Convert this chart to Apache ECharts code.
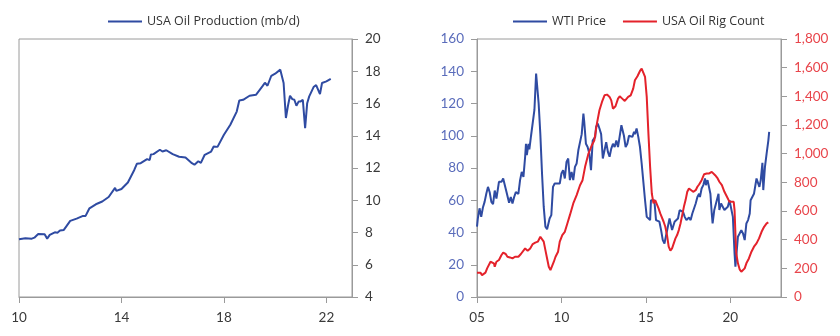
<!DOCTYPE html>
<html>
<head>
<meta charset="utf-8">
<script src="https://cdn.jsdelivr.net/npm/echarts@6/dist/echarts.min.js"></script>
<style>html,body{margin:0;padding:0;background:#fff}#c{width:840px;height:336px}</style>
</head>
<body>
<div id="c"></div>
<script>
// Left chart: USA oil production (mb/d), x in years since 2000
const prodX = [10.0,10.25,10.5,10.6,10.75,11.0,11.1,11.2,11.4,11.5,11.6,11.75,12.0,12.25,12.5,12.6,12.75,13.0,13.25,13.5,13.75,13.8,14.0,14.25,14.5,14.6,14.75,15.0,15.1,15.15,15.25,15.5,15.6,15.75,16.0,16.25,16.5,16.75,16.85,17.0,17.1,17.25,17.5,17.6,17.75,18.0,18.25,18.5,18.6,18.75,19.0,19.25,19.5,19.6,19.7,19.85,20.0,20.2,20.25,20.33,20.42,20.5,20.58,20.67,20.75,20.83,20.92,21.0,21.08,21.17,21.25,21.33,21.5,21.6,21.67,21.75,21.83,22.0,22.17];
const prodY = [7.58,7.64,7.62,7.68,7.91,7.89,7.62,7.85,8.01,7.99,8.12,8.16,8.72,8.86,9.03,9.03,9.5,9.75,9.92,10.2,10.77,10.58,10.7,11.1,11.88,12.26,12.3,12.55,12.49,12.84,12.86,13.13,13.02,13.1,12.86,12.7,12.65,12.3,12.2,12.42,12.32,12.82,13.02,13.33,13.31,14.06,14.68,15.5,16.19,16.23,16.48,16.54,17.06,17.29,17.1,17.72,17.85,18.1,18.06,17.27,15.1,15.86,16.48,16.27,16.23,15.86,16.13,16.13,16.23,14.47,16.02,16.44,17.02,17.14,17.02,16.58,17.27,17.37,17.52];

// Right chart: WTI price ($/bbl)
const wtiX = [5.0,5.05,5.15,5.25,5.35,5.45,5.55,5.65,5.75,5.85,5.95,6.05,6.15,6.3,6.45,6.55,6.65,6.75,6.9,7.0,7.1,7.2,7.3,7.45,7.55,7.65,7.75,7.85,7.9,7.95,8.05,8.1,8.2,8.3,8.4,8.5,8.55,8.65,8.75,8.85,8.95,9.05,9.15,9.3,9.4,9.5,9.6,9.75,9.9,10.0,10.1,10.2,10.3,10.4,10.5,10.6,10.7,10.8,10.9,11.0,11.1,11.2,11.3,11.35,11.45,11.55,11.65,11.75,11.85,11.95,12.0,12.05,12.15,12.25,12.35,12.45,12.55,12.65,12.75,12.85,12.95,13.05,13.15,13.25,13.35,13.45,13.55,13.6,13.7,13.8,13.9,14.0,14.1,14.2,14.3,14.35,14.45,14.55,14.65,14.75,14.85,14.95,15.05,15.15,15.25,15.3,15.4,15.5,15.6,15.7,15.8,15.9,16.0,16.1,16.2,16.3,16.4,16.5,16.55,16.7,16.8,16.9,17.0,17.1,17.2,17.3,17.4,17.5,17.55,17.65,17.75,17.85,17.95,18.05,18.15,18.2,18.3,18.4,18.5,18.55,18.65,18.75,18.82,18.9,18.95,19.05,19.15,19.3,19.35,19.45,19.55,19.65,19.75,19.85,19.95,20.05,20.15,20.25,20.3,20.35,20.45,20.55,20.65,20.75,20.85,20.95,21.05,21.15,21.2,21.3,21.4,21.45,21.55,21.65,21.72,21.8,21.9,21.95,22.05,22.15,22.25,22.3];
const wtiY = [43.6,48.7,55,49.7,55.5,59,64,68.3,65,59,57.6,66,61,71.4,71.4,73.5,72.5,65,58.4,62,58,62,65,64,72.5,77.6,74.5,87,95,88,95,91.5,100,101,116,138.5,139.6,120,101,76.6,56,43.6,42,48.7,50.8,68.3,70.4,70.4,70.4,76.6,78.7,73.5,83.8,85.9,72.5,77.6,72.5,80.7,82.8,91,92,101,113.7,108.6,95,93,89,78.7,97,98,99.3,105.5,107.6,104.5,101,85.9,84.8,96,90,87,92,95,93,97,93,92,106.5,106.5,100,93,95,100,101,99.3,102.4,101,104.5,99.3,93,82.8,71.4,60,49.7,48.7,47.7,60,59,60,47.7,46.7,46.7,41.5,35.3,33.2,34.3,43.6,48.7,47.7,41.5,46.7,47.7,48.7,53.9,52.8,52.8,49.7,47.7,46.7,49.3,47.7,51.8,54.9,58,62,64,62,67.3,69.4,73.5,69.4,72.5,72.5,64,51.8,45.6,54,58,64,54,58,57,54,53.5,56,60,59,49.7,27,18.8,25,37.4,39.4,41.5,39.4,35.3,45.6,47.7,51.8,60,59,64,65,73.5,73.5,68.3,72.5,83.2,66.3,80.7,89,97,102.4];

// Right chart: USA oil rig count
const rigX = [5.0,5.1,5.2,5.3,5.4,5.5,5.6,5.7,5.8,5.9,6.0,6.05,6.15,6.3,6.45,6.55,6.7,6.8,6.95,7.1,7.25,7.45,7.6,7.7,7.85,8.0,8.15,8.3,8.45,8.6,8.75,8.85,8.95,9.05,9.15,9.25,9.35,9.45,9.55,9.65,9.8,9.9,10.05,10.2,10.35,10.5,10.7,10.9,11.1,11.25,11.4,11.6,11.8,11.95,12.1,12.25,12.4,12.55,12.7,12.85,12.95,13.05,13.2,13.35,13.45,13.6,13.75,13.85,13.95,14.1,14.25,14.35,14.5,14.65,14.75,14.85,14.95,15.05,15.15,15.25,15.35,15.45,15.55,15.65,15.75,15.85,15.95,16.05,16.15,16.25,16.35,16.45,16.55,16.65,16.75,16.85,16.95,17.05,17.15,17.25,17.35,17.45,17.55,17.65,17.8,17.95,18.05,18.15,18.3,18.45,18.6,18.75,18.9,19.0,19.1,19.25,19.35,19.5,19.65,19.8,19.95,20.05,20.2,20.25,20.3,20.35,20.45,20.55,20.65,20.75,20.85,20.95,21.1,21.25,21.4,21.55,21.7,21.85,22.0,22.15,22.25];
const rigY = [170,183,170,153,142,170,200,211,246,246,235,211,246,258,293,309,300,281,276,269,281,281,300,304,339,323,339,369,379,386,420,416,386,327,269,211,188,193,246,281,316,386,432,455,513,571,653,711,780,815,908,1001,1059,1094,1210,1303,1361,1407,1412,1396,1372,1314,1331,1384,1400,1384,1368,1377,1396,1407,1454,1512,1540,1577,1593,1582,1535,1396,1140,908,722,653,676,664,618,583,571,525,490,432,351,323,339,374,409,432,467,513,571,629,676,734,757,745,734,745,769,785,815,857,862,862,873,866,850,827,804,780,734,699,664,664,664,606,444,304,235,193,176,176,200,235,269,316,351,374,409,455,490,513,520];

const leftXTicks = [10, 14, 18, 22];
const rightXTicks = [5, 10, 15, 20];

const BLUE = '#2f4ba2';
const RED = '#e4222b';
const AXIS = '#9a9a9a';
const FONT = 'Lato';

const pair = (xs, ys) => xs.map((x, i) => [x, ys[i]]);

const chart = echarts.init(document.getElementById('c'));
const labelBase = {fontFamily: FONT, fontSize: 13.5, color: '#3a3a3a'};
const legendText = {fontFamily: 'Open Sans', fontSize: 12.5, color: '#333'};

chart.setOption({
  animation: false,
  textStyle: {fontFamily: FONT},
  legend: [
    {data: ['USA Oil Production (mb/d)'], left: 103, top: 10, icon: 'rect', itemWidth: 34, itemHeight: 2, itemGap: 10,
     textStyle: legendText},
    {data: ['WTI Price', 'USA Oil Rig Count'], left: 508, top: 10, icon: 'rect', itemWidth: 34, itemHeight: 2, itemGap: 17,
     textStyle: legendText}
  ],
  grid: [
    {left: 19, top: 39, width: 333, height: 258, show: true, borderColor: AXIS, borderWidth: 1, backgroundColor: 'transparent'},
    {left: 477, top: 39, width: 304, height: 258, show: true, borderColor: AXIS, borderWidth: 1, backgroundColor: 'transparent'}
  ],
  xAxis: [
    {type: 'value', gridIndex: 0, min: 10, max: 23, interval: 4,
     axisLine: {show: true, lineStyle: {color: AXIS}},
     axisTick: {show: true, length: 6, lineStyle: {color: AXIS}, customValues: leftXTicks},
     axisLabel: Object.assign({}, labelBase, {margin: 14, customValues: leftXTicks, formatter: v => String(v)}),
     splitLine: {show: false}},
    {type: 'value', gridIndex: 1, min: 5, max: 23, interval: 5,
     axisLine: {show: true, lineStyle: {color: AXIS}},
     axisTick: {show: true, length: 6, lineStyle: {color: AXIS}, customValues: rightXTicks},
     axisLabel: Object.assign({}, labelBase, {margin: 14, customValues: rightXTicks, formatter: v => String(v).padStart(2, '0')}),
     splitLine: {show: false}}
  ],
  yAxis: [
    {type: 'value', gridIndex: 0, position: 'right', min: 4, max: 20, interval: 2,
     axisLine: {show: true, lineStyle: {color: AXIS}},
     axisTick: {show: true, length: 6, lineStyle: {color: AXIS}},
     axisLabel: Object.assign({}, labelBase, {margin: 13}),
     splitLine: {show: false}},
    {type: 'value', gridIndex: 1, position: 'left', min: 0, max: 160, interval: 20,
     axisLine: {show: true, lineStyle: {color: AXIS}},
     axisTick: {show: true, length: 6, lineStyle: {color: AXIS}},
     axisLabel: Object.assign({}, labelBase, {margin: 13, color: '#5a6cbb'}),
     splitLine: {show: false}},
    {type: 'value', gridIndex: 1, position: 'right', min: 0, max: 1800, interval: 200,
     axisLine: {show: true, lineStyle: {color: AXIS}},
     axisTick: {show: true, length: 6, lineStyle: {color: AXIS}},
     axisLabel: Object.assign({}, labelBase, {margin: 13, color: '#e8454b',
       formatter: v => v.toLocaleString('en-US')}),
     splitLine: {show: false}}
  ],
  series: [
    {name: 'USA Oil Production (mb/d)', type: 'line', xAxisIndex: 0, yAxisIndex: 0, showSymbol: false, symbol: 'none',
     data: pair(prodX, prodY), lineStyle: {color: BLUE, width: 2}, itemStyle: {color: BLUE}},
    {name: 'WTI Price', type: 'line', xAxisIndex: 1, yAxisIndex: 1, showSymbol: false, symbol: 'none',
     data: pair(wtiX, wtiY), lineStyle: {color: BLUE, width: 2}, itemStyle: {color: BLUE}},
    {name: 'USA Oil Rig Count', type: 'line', xAxisIndex: 1, yAxisIndex: 2, showSymbol: false, symbol: 'none',
     data: pair(rigX, rigY), lineStyle: {color: RED, width: 2}, itemStyle: {color: RED}}
  ]
});
</script>
</body>
</html>
